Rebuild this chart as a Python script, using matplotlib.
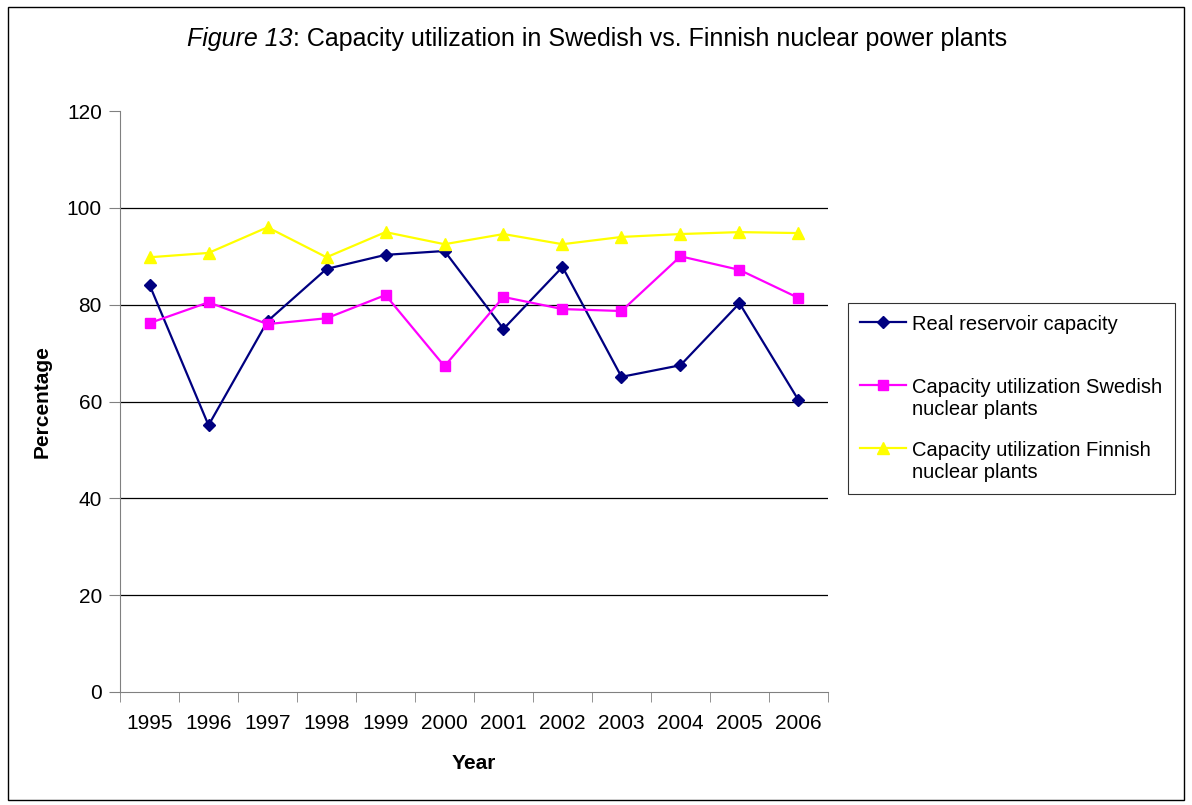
import numpy as np
import matplotlib.pyplot as plt
from matplotlib.patches import Rectangle

plt.rcParams['font.family'] = ['Liberation Sans', 'DejaVu Sans']

years = ['1995', '1996', '1997', '1998', '1999', '2000',
         '2001', '2002', '2003', '2004', '2005', '2006']
reservoir = [84.1, 55.1, 76.6, 87.4, 90.3, 91.1, 75.0, 87.8, 65.1, 67.5, 80.3, 60.3]
swedish = [76.2, 80.5, 76.0, 77.2, 82.0, 67.3, 81.6, 79.1, 78.7, 90.0, 87.2, 81.4]
finnish = [89.8, 90.7, 96.0, 89.8, 95.0, 92.5, 94.6, 92.5, 94.0, 94.6, 95.0, 94.8]

fig = plt.figure(figsize=(11.92, 8.05), dpi=100)
ax = fig.add_axes([0.1007, 0.1404, 0.5939, 0.7216])

x = np.arange(len(years))
ax.plot(x, reservoir, color='#000080', marker='D', markersize=6, lw=1.6,
        label='Real reservoir capacity\n ')
ax.plot(x, swedish, color='#FF00FF', marker='s', markersize=7, lw=1.6,
        label='Capacity utilization Swedish\nnuclear plants')
ax.plot(x, finnish, color='#FFFF00', marker='^', markersize=8, lw=1.6,
        label='Capacity utilization Finnish\nnuclear plants')

ax.set_xlim(-0.5, len(years) - 0.5)
ax.set_ylim(0, 120)
ax.set_yticks(np.arange(0, 121, 20))
ax.tick_params(axis='y', labelsize=15, length=8, color='#808080', pad=5)
for yv in range(20, 101, 20):
    ax.axhline(yv, color='black', lw=0.9, zorder=0)

ax.set_xticks(x)
ax.set_xticklabels(years)
ax.set_xticks(np.arange(-0.5, len(years), 1), minor=True)
ax.tick_params(axis='x', which='major', length=0, labelsize=15, pad=16)
ax.tick_params(axis='x', which='minor', length=7, color='#808080')

for s in ['top', 'right']:
    ax.spines[s].set_visible(False)
for s in ['left', 'bottom']:
    ax.spines[s].set_color('#808080')

ax.set_xlabel('Year', fontsize=15, fontweight='bold', labelpad=15)
ax.set_ylabel('Percentage', fontsize=15, fontweight='bold', labelpad=11)

# title: italic "Figure 13" followed by normal text
renderer = fig.canvas.get_renderer()
t1 = fig.text(0.157, 0.952, 'Figure 13', ha='left', va='center', fontsize=18, style='italic')
bb = t1.get_window_extent(renderer=renderer)
x2 = fig.transFigure.inverted().transform((bb.x1, 0))[0]
fig.text(x2, 0.952, ': Capacity utilization in Swedish vs. Finnish nuclear power plants',
         ha='left', va='center', fontsize=18)

leg = fig.legend(loc='upper left', bbox_to_anchor=(0.7114, 0.6236), fontsize=14.5,
                 frameon=True, fancybox=False, edgecolor='black', handlelength=2.3,
                 labelspacing=1.1, borderpad=0.6, handletextpad=0.3, borderaxespad=0)
leg.get_frame().set_linewidth(0.8)
for col in leg._legend_handle_box.get_children():
    for row in col.get_children():
        row.align = 'top'

fig.patches.append(Rectangle((0.007, 0.006), 0.986, 0.985, transform=fig.transFigure,
                             fill=False, edgecolor='black', lw=1))

fig.savefig('out.png', dpi=100)
